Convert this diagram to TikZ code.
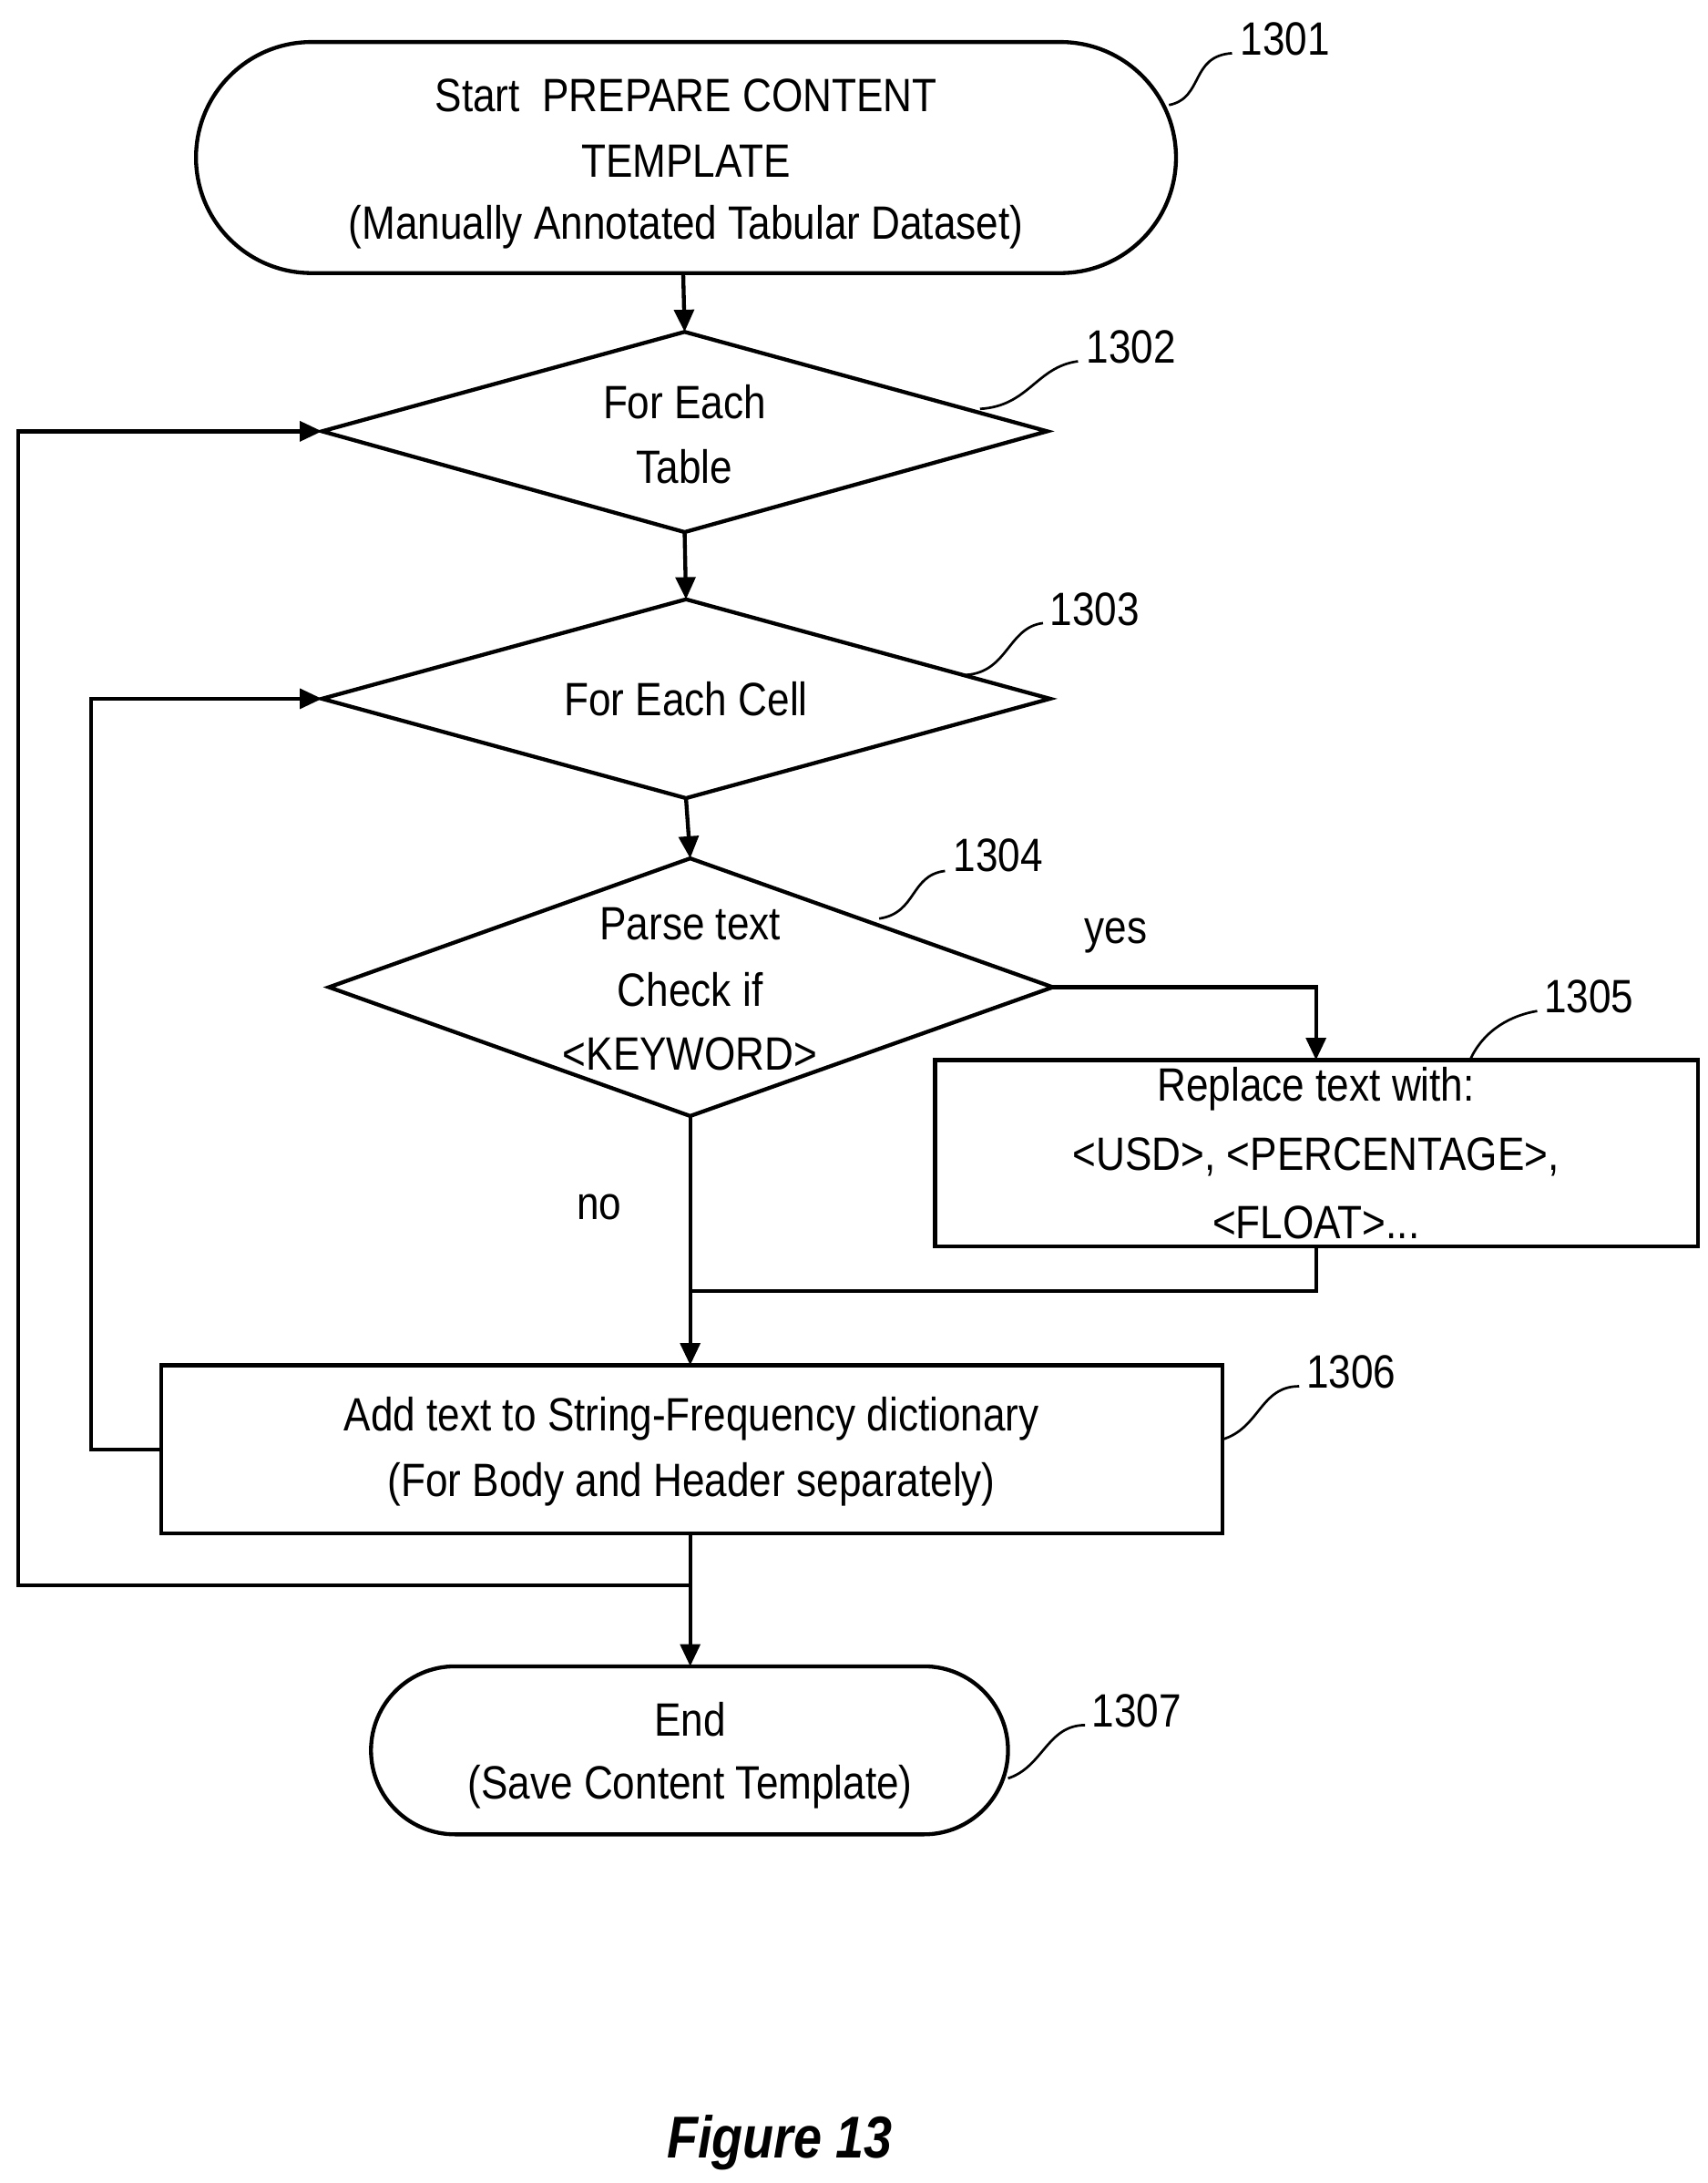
\documentclass[tikz,border=0pt]{standalone}
\usepackage{fontspec}
\setmainfont{Liberation Sans}
\usetikzlibrary{arrows.meta}
\begin{document}
\begin{tikzpicture}[x=0.02cm,y=-0.02cm,
  line width=1.6pt,
  arr/.style={-{Triangle[length=9pt,width=8pt]}},
  txt/.style={font=\fontsize{19}{19}\selectfont, xscale=0.86, inner sep=0pt},
  lbl/.style={font=\fontsize{19}{19}\selectfont, xscale=0.86, inner sep=0pt},
  sq/.style={line width=1pt}]
\useasboundingbox (0,0) rectangle (1220,1559);
% 1301
\draw[rounded corners=82.5*0.02cm] (140,30) rectangle (840,195);
\node[txt] (t1a) at (490,68) {Start\ \ PREPARE CONTENT};
\node[txt] (t1b) at (490,115) {TEMPLATE};
\node[txt] (t1c) at (490,162) {(Manually Annotated Tabular Dataset)};
\coordinate (s1b) at (488,195);
% 1302
\draw (230,308) -- (489,237) -- (748,308) -- (489,380) -- cycle;
\coordinate (d2t) at (489,237); \coordinate (d2b) at (489,380); \coordinate (d2l) at (230,308);
\node[txt] (t2a) at (489,287) {For Each};
\node[txt] (t2b) at (489,333) {Table};
% 1303
\draw (230,499) -- (490,428) -- (750,499) -- (490,570) -- cycle;
\coordinate (d3t) at (490,428); \coordinate (d3b) at (490,570); \coordinate (d3l) at (230,499);
\node[txt] (t3) at (490,499) {For Each Cell};
% 1304
\draw (235,705) -- (493,613) -- (752,705) -- (493,797) -- cycle;
\coordinate (d4t) at (493,613); \coordinate (d4b) at (493,797); \coordinate (d4r) at (752,705);
\node[txt] (t4a) at (493,660) {Parse text};
\node[txt] (t4b) at (493,707) {Check if};
\node[txt] (t4c) at (493,753) {<KEYWORD>};
% 1305
\draw (668,757) rectangle (1213,890);
\coordinate (b5t) at (940,757); \coordinate (b5b) at (940,890);
\node[txt] (t5a) at (940,778) {Replace text with:};
\node[txt] (t5b) at (940,826) {<USD>, <PERCENTAGE>,};
\node[txt] (t5c) at (940,873) {<FLOAT>...};
% 1306
\draw (115,975) rectangle (873,1095);
\coordinate (b6t) at (493,975); \coordinate (b6b) at (493,1095); \coordinate (b6l) at (115,1035);
\node[txt] (t6a) at (494,1013) {Add text to String-Frequency dictionary};
\node[txt] (t6b) at (494,1060) {(For Body and Header separately)};
% 1307
\draw[rounded corners=60*0.02cm] (265,1190) rectangle (720,1310);
\coordinate (s7t) at (493,1190);
\node[txt] (t7a) at (493,1228) {End};
\node[txt] (t7b) at (493,1276) {(Save Content Template)};
% connectors
\draw[arr] (s1b) -- (d2t);
\draw[arr] (d2b) -- (d3t);
\draw[arr] (d3b) -- (d4t);
\draw[arr] (d4r) -| (b5t);
\coordinate (j1) at (493,922);
\draw[arr] (d4b) -- (b6t);
\draw (b5b) |- (j1);
\draw[arr] (b6l) -- (65,1035) |- (d3l);
\coordinate (j2) at (493,1132);
\draw[arr] (b6b) -- (s7t);
\draw[arr] (j2) -- (13,1132) |- (d2l);
\node[lbl] (yes) at (797,668) {yes};
\node[lbl] (no) at (428,862) {no};
% labels
\node[lbl] (l1) at (918,28) {1301};
\draw[sq] (835,75) .. controls (860,70) and (850,40) .. (880,38);
\node[lbl] (l2) at (808,248) {1302};
\draw[sq] (700,292) .. controls (735,290) and (740,262) .. (770,258);
\node[lbl] (l3) at (782,435) {1303};
\draw[sq] (690,482) .. controls (720,480) and (720,448) .. (745,445);
\node[lbl] (l4) at (713,611) {1304};
\draw[sq] (628,656) .. controls (655,652) and (650,625) .. (675,622);
\node[lbl] (l5) at (1135,712) {1305};
\draw[sq] (1050,757) .. controls (1060,735) and (1080,725) .. (1098,722);
\node[lbl] (l6) at (965,980) {1306};
\draw[sq] (873,1028) .. controls (900,1020) and (900,990) .. (928,990);
\node[lbl] (l7) at (812,1222) {1307};
\draw[sq] (720,1270) .. controls (745,1262) and (748,1232) .. (775,1232);
\node[font=\fontsize{24}{24}\selectfont\bfseries\itshape, xscale=0.86] (fig) at (557,1530) {Figure 13};
\end{tikzpicture}
\end{document}
